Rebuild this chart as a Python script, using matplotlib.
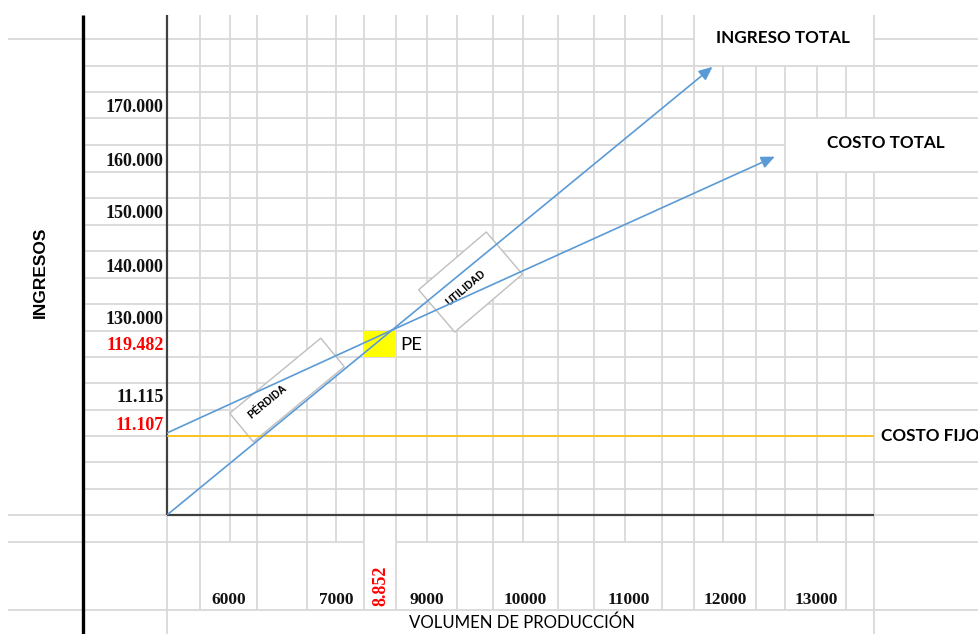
import matplotlib.pyplot as plt
from matplotlib.patches import Polygon, Rectangle
import numpy as np

# values read from the sheet
volumen_labels = ["6000", "7000", "9000", "10000", "11000", "12000", "13000"]
ingreso_labels = ["170.000", "160.000", "150.000", "140.000", "130.000", "11.115"]
pe_volumen_label = "8.852"
pe_ingreso_label = "119.482"
costo_fijo_label = "11.107"

# chart lines (units, pesos)
ingreso_total_x = [0, 8852, 21450]
ingreso_total_y = [0, 119482, 289500]
costo_total_x = [0, 8852, 23900]
costo_total_y = [53000, 119482, 231500]
costo_fijo_x = [0, 27800]
costo_fijo_y = [51200, 51200]

# sheet layout in pixels (spreadsheet grid)
W, H = 979, 634
rows = [39, 65.5, 92, 118, 145, 171.5, 198, 224.5, 251, 277.5, 304, 330.5,
        357, 383, 409.5, 436, 462, 488.5, 515, 541.5, 610]
cols = [200.5, 230, 257.5, 307.5, 336.5, 364, 396.5, 427.5, 457, 493.5, 523,
        558, 594.5, 625, 662, 694.5, 723, 756, 785, 817, 846.5]
label_cols = [230, 336.5, 427.5, 523, 625, 723, 817]
ingreso_rows = [108, 161, 214, 267, 319.5, 398]

GRID = "#d9d9d9"
BLUE = "#5b9bd5"
AXIS = "#404040"

fig = plt.figure(figsize=(W / 100, H / 100), dpi=100)
ax = fig.add_axes([0, 0, 1, 1])
ax.set_xlim(0, W)
ax.set_ylim(H, 0)
ax.axis("off")


def seg(x0, x1, y0, y1, color=GRID, lw=1.3, z=1):
    ax.plot([x0, x1], [y0, y1], color=color, lw=lw, zorder=z,
            solid_capstyle="butt")


# horizontal grid lines
for y in rows:
    x0 = 8 if y in (39, 515, 541.5, 610) else 83
    if y == 39:
        seg(x0, 694.5, y, y)
        seg(874, W, y, y)
    elif y == 145:
        seg(x0, 785, y, y)
    elif y == 436:
        seg(x0, 874, y, y)
    elif y == 541.5:
        seg(x0, 364, y, y)
        seg(396.5, W, y, y)
    else:
        seg(x0, W, y, y)

# vertical grid lines
for x in cols:
    top = 65.5 if x > 700 else 15
    if x in (817, 846.5):
        seg(x, x, top, 118)
        seg(x, x, 171.5, 541.5)
    else:
        seg(x, x, top, 541.5)
    if x not in label_cols:
        seg(x, x, 541.5, 610)
seg(874, 874, 15, 118)
seg(874, 874, 171.5, H)
seg(167, 167, 515, H)

# axes of the diagram
seg(83, 83, 15, H, color="black", lw=2.4, z=3)
seg(167, 167, 15, 515, color=AXIS, lw=1.6, z=3)
seg(167, 874, 515, 515, color=AXIS, lw=1.6, z=3)

# break-even cell
ax.add_patch(Rectangle((364, 330.5), 32.5, 26.5, facecolor="#ffff00",
                       edgecolor="none", zorder=2))


def rot_box(cx, cy, length, width, ang):
    a = np.radians(ang)
    u = np.array([np.cos(a), -np.sin(a)]) * length / 2
    v = np.array([np.sin(a), np.cos(a)]) * width / 2
    c = np.array([cx, cy])
    return [c - u - v, c + u - v, c + u + v, c - u + v]


for cx, cy, ln, wd, ang, tx, ty, txt in [
    (287, 390, 118, 37, 39.5, 267, 402, "PÉRDIDA"),
    (470.5, 282, 89, 55.6, 40.5, 466, 288, "UTILIDAD"),
]:
    ax.add_patch(Polygon(rot_box(cx, cy, ln, wd, ang), closed=True,
                         facecolor="white", edgecolor="#bfbfbf", lw=1.0,
                         zorder=4))
    ax.text(tx, ty, txt, rotation=ang, ha="center", va="center",
            fontsize=7.5, fontweight="bold", family="Liberation Sans",
            zorder=5, rotation_mode="anchor")

# y labels
serif = dict(family="Liberation Serif", fontweight="bold", fontsize=13)
for lab, y in zip(ingreso_labels, ingreso_rows):
    ax.text(163.5, y, lab, ha="right", va="center", color="#111111", **serif)
ax.text(163.5, 346, pe_ingreso_label, ha="right", va="center", color="red",
        **serif)
ax.text(163.5, 425, costo_fijo_label, ha="right", va="center", color="red",
        **serif)

# x labels
for lab, x in zip(volumen_labels, [229, 336.5, 427, 525.5, 628.5, 725.5, 816]):
    ax.text(x, 600.5, lab, ha="center", va="center", color="#111111",
            family="Liberation Serif", fontweight="bold", fontsize=12.5)
ax.text(380.5, 586, pe_volumen_label, ha="center", va="center", color="red",
        rotation=90, family="Liberation Serif", fontweight="bold",
        fontsize=13)

ax.text(40, 272, "INGRESOS", rotation=90, ha="center", va="center",
        family="Liberation Sans", fontweight="bold", fontsize=12.5)
ax.text(521.5, 623, "VOLUMEN DE PRODUCCIÓN", ha="center", va="center",
        family="Lato", fontsize=12.1)
ax.text(783, 38, "INGRESO TOTAL", ha="center", va="center",
        family="Lato", fontweight="bold", fontsize=12.3)
ax.text(886, 143, "COSTO TOTAL", ha="center", va="center",
        family="Lato", fontweight="bold", fontsize=12.3)
ax.text(881, 436, "COSTO FIJO", ha="left", va="center",
        family="Lato", fontweight="bold", fontsize=12.3)
ax.text(400, 345, "PE", ha="left", va="center", family="Lato", fontsize=13.3)

# chart drawn on its own value scale over the sheet
chart = fig.add_axes([167 / W, (H - 515) / H, (874 - 167) / W, (515 - 15) / H])
chart.set_xlim(0, 27800)
chart.set_ylim(0, 323000)
chart.axis("off")
chart.patch.set_alpha(0)

chart.plot(costo_fijo_x, costo_fijo_y, color="#ffc000", lw=1.2)
for xs, ys in [(ingreso_total_x, ingreso_total_y),
               (costo_total_x, costo_total_y)]:
    chart.plot(xs[:-1], ys[:-1], color=BLUE, lw=1.2)
    chart.annotate("", xy=(xs[-1], ys[-1]), xytext=(xs[-2], ys[-2]),
                   arrowprops=dict(arrowstyle="-|>,head_length=0.45,head_width=0.2",
                                   color=BLUE, lw=1.2, mutation_scale=18,
                                   shrinkA=0, shrinkB=0))

fig.savefig("out.png", dpi=100)
